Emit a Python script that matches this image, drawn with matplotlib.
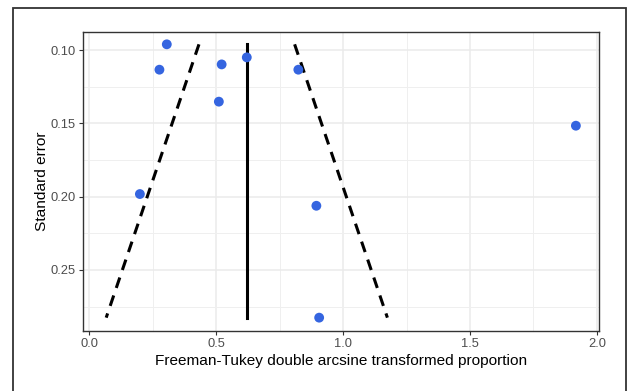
import numpy as np
import matplotlib
matplotlib.use('Agg')
import matplotlib.pyplot as plt
from matplotlib.patches import Rectangle

plt.rcParams['font.family'] = ['Liberation Sans', 'DejaVu Sans']

# Dados (funnel plot)
proportion = [0.306, 0.277, 0.522, 0.511, 0.621, 0.824, 1.917, 0.200, 0.895, 0.906]
std_error = [0.0961, 0.1134, 0.1098, 0.1352, 0.1050, 0.1134, 0.1516, 0.1982, 0.2062, 0.2825]
pooled = 0.621
x_ticks = [0.0, 0.5, 1.0, 1.5, 2.0]
y_ticks = [0.10, 0.15, 0.20, 0.25]

se_min, se_max = min(std_error), max(std_error)
se_line = np.array([se_min, se_max])

fig = plt.figure(figsize=(6.27, 3.91), dpi=100)
ax = fig.add_axes([83 / 627, 1 - 331 / 391, (599 - 83) / 627, (331 - 32) / 391])

# moldura externa
fig.patches.append(Rectangle((12.7 / 627, -0.05), (626 - 12.7) / 627, 1.05 - 8 / 391,
                             transform=fig.transFigure, fill=False,
                             edgecolor='#333333', linewidth=1.3))

ax.plot([pooled, pooled], se_line, color='black', linewidth=2.2, zorder=3)
ax.plot(pooled - 1.96 * se_line, se_line, color='black', linewidth=2.2,
        linestyle=(0, (3.6, 2.6)), zorder=3)
ax.plot(pooled + 1.96 * se_line, se_line, color='black', linewidth=2.2,
        linestyle=(0, (3.6, 2.6)), zorder=3)
ax.scatter(proportion, std_error, s=50, color='#3565e0', edgecolors='none', zorder=4)

ax.set_xlim(-0.024, 2.008)
ax.set_ylim(0.2916, 0.0877)
ax.set_xticks(x_ticks)
ax.set_xticklabels(['0.0', '0.5', '1.0', '1.5', '2.0'])
ax.set_yticks(y_ticks)
ax.set_yticklabels(['0.10', '0.15', '0.20', '0.25'])
ax.set_xticks([0.25, 0.75, 1.25, 1.75], minor=True)
ax.set_yticks([0.125, 0.175, 0.225, 0.275], minor=True)

ax.grid(True, which='major', color='#ebebeb', linewidth=1.1, zorder=0)
ax.grid(True, which='minor', color='#efefef', linewidth=0.7, zorder=0)
ax.set_axisbelow(True)
ax.tick_params(which='major', length=3, width=0.8, color='#333333',
               labelsize=9.3, labelcolor='#4d4d4d', pad=2)
ax.tick_params(which='minor', length=0)
for s in ax.spines.values():
    s.set_color('#333333')
    s.set_linewidth(1.0)

ax.set_xlabel('Freeman-Tukey double arcsine transformed proportion', fontsize=11.1,
              color='black', labelpad=3)
ax.set_ylabel('Standard error', fontsize=11.1, color='black', labelpad=1)

fig.savefig('out.png', dpi=100)
